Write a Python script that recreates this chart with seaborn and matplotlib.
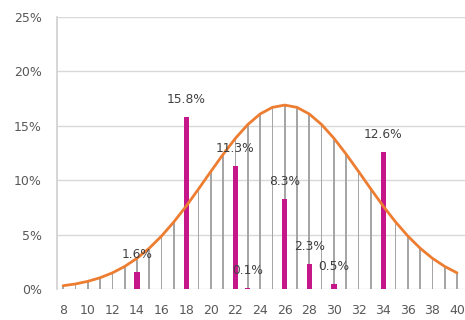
import matplotlib
matplotlib.use("Agg")
import matplotlib.pyplot as plt
import seaborn as sns
import pandas as pd
from matplotlib.ticker import PercentFormatter

# fitted normal curve read at each integer (percent)
curve_x = list(range(8, 41))
curve_y = [0.30, 0.46, 0.70, 1.03, 1.48, 2.07, 2.82, 3.75, 4.87, 6.17, 7.62,
           9.19, 10.80, 12.38, 13.85, 15.11, 16.08, 16.69, 16.90, 16.69, 16.08,
           15.11, 13.85, 12.38, 10.80, 9.19, 7.62, 6.17, 4.87, 3.75, 2.82,
           2.07, 1.48]

# observed share (percent)
obs_x = [14, 18, 22, 23, 26, 28, 30, 34]
obs_y = [1.6, 15.8, 11.3, 0.1, 8.3, 2.3, 0.5, 12.6]

xticks = list(range(8, 41, 2))

sns.set_style("white")
plt.rcParams["font.family"] = ["DejaVu Sans"]

curve = pd.DataFrame({"x": curve_x, "y": curve_y})
obs = pd.DataFrame({"x": obs_x, "y": obs_y})

fig = plt.figure(figsize=(4.65, 3.2), dpi=100)
ax = fig.add_axes([0.1226, 0.097, 0.8774, 0.85])

sns.barplot(data=curve, x="x", y="y", native_scale=True, width=0.14,
            color="#a6a6a6", saturation=1, linewidth=0, ax=ax, zorder=2)
sns.barplot(data=obs, x="x", y="y", native_scale=True, width=0.42,
            color="#c5168a", saturation=1, linewidth=0, ax=ax, zorder=3)
sns.lineplot(data=curve, x="x", y="y", color="#ed7d31", linewidth=2.0,
             ax=ax, zorder=4)

for x, y in zip(obs_x, obs_y):
    ax.annotate(f"{y:.1f}%", (x, y), xytext=(0, 12.5), textcoords="offset points",
                ha="center", va="center", fontsize=8.8, color="#404040", zorder=5)

ax.set_xlim(7.5, 40.65)
ax.set_ylim(0, 25)
ax.set_xticks(xticks)
ax.set_yticks([0, 5, 10, 15, 20, 25])
ax.yaxis.set_major_formatter(PercentFormatter(decimals=0))
ax.grid(axis="y", color="#d9d9d9", linewidth=1)
ax.set_axisbelow(True)
ax.set_xlabel("")
ax.set_ylabel("")
for s in ["top", "right", "bottom"]:
    ax.spines[s].set_visible(False)
ax.spines["left"].set_color("#d0d0d0")
ax.spines["left"].set_linewidth(1.2)
ax.tick_params(axis="y", length=4, color="#d0d0d0", pad=7, labelsize=9,
               labelcolor="#595959")
ax.tick_params(axis="x", length=0, pad=11, labelsize=9, labelcolor="#595959")

fig.savefig("out.png", dpi=100)
